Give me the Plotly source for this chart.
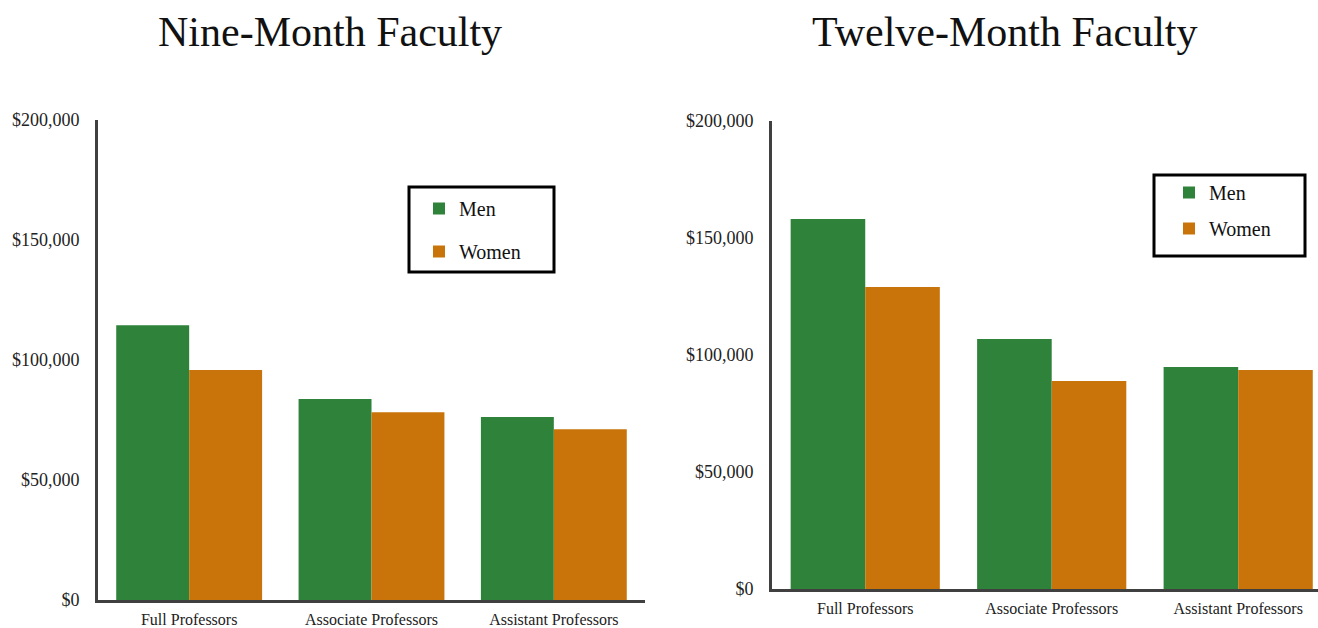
import plotly.graph_objects as go

categories = ["Full Professors", "Associate Professors", "Assistant Professors"]
nine_men = [114500, 83800, 76200]
nine_women = [95800, 78200, 71100]
twelve_men = [158100, 106800, 94900]
twelve_women = [129100, 88900, 93600]
y_ticks = [0, 50000, 100000, 150000, 200000]
y_tick_labels = ["$0", "$50,000", "$100,000", "$150,000", "$200,000"]

GREEN = "#2F823A"
ORANGE = "#C9740A"
FONT = "Liberation Serif"
AXIS = "#404040"
W, H = 1318, 628

fig = go.Figure()
fig.add_trace(go.Bar(x=categories, y=nine_men, name="Men", marker=dict(color=GREEN, line=dict(width=0)),
                     xaxis="x", yaxis="y", legend="legend", legendgroup="a"))
fig.add_trace(go.Bar(x=categories, y=nine_women, name="Women", marker=dict(color=ORANGE, line=dict(width=0)),
                     xaxis="x", yaxis="y", legend="legend", legendgroup="b"))
fig.add_trace(go.Bar(x=categories, y=twelve_men, name="Men", marker=dict(color=GREEN, line=dict(width=0)),
                     xaxis="x2", yaxis="y2", legend="legend2", legendgroup="c"))
fig.add_trace(go.Bar(x=categories, y=twelve_women, name="Women", marker=dict(color=ORANGE, line=dict(width=0)),
                     xaxis="x2", yaxis="y2", legend="legend2", legendgroup="d"))

def px_x(p):
    return p / W

def px_y(p):
    return (H - p) / H

xcommon = dict(showgrid=False, zeroline=False, showline=True, linecolor=AXIS, linewidth=3,
               ticks="", tickfont=dict(family=FONT, size=16, color="#222"), ticklabelstandoff=3,
               automargin=False)
ycommon = dict(showgrid=False, zeroline=False, showline=True, linecolor=AXIS, linewidth=3,
               ticks="", range=[0, 200000], tickvals=y_ticks, ticktext=y_tick_labels,
               tickfont=dict(family=FONT, size=18, color="#222"), ticklabelstandoff=12,
               automargin=False)

legcommon = dict(font=dict(family=FONT, size=20, color="#111"), bgcolor="rgba(0,0,0,0)",
                 borderwidth=0, xanchor="left", yanchor="top")

fig.update_layout(
    width=W, height=H,
    margin=dict(l=0, r=0, t=0, b=0, pad=0, autoexpand=False),
    paper_bgcolor="white", plot_bgcolor="white",
    barmode="group", bargap=0.2, bargroupgap=0,
    showlegend=True,
    xaxis=dict(domain=[px_x(98), px_x(645)], anchor="y", range=[-0.5, 2.5], **xcommon),
    yaxis=dict(domain=[px_y(600), px_y(120)], anchor="x", **ycommon),
    xaxis2=dict(domain=[px_x(772), 1.0], anchor="y2", range=[-0.5, 2.428], **xcommon),
    yaxis2=dict(domain=[px_y(589), px_y(121)], anchor="x2", **ycommon),
    legend=dict(x=px_x(419), y=px_y(189), tracegroupgap=14, **legcommon),
    legend2=dict(x=px_x(1169), y=px_y(173), tracegroupgap=7, **legcommon),
    annotations=[
        dict(text="Nine-Month Faculty", x=px_x(330), y=px_y(32), xref="paper", yref="paper",
             showarrow=False, xanchor="center", yanchor="middle",
             font=dict(family=FONT, size=42, color="#111")),
        dict(text="Twelve-Month Faculty", x=px_x(1005), y=px_y(32), xref="paper", yref="paper",
             showarrow=False, xanchor="center", yanchor="middle",
             font=dict(family=FONT, size=42, color="#111")),
    ],
    shapes=[
        dict(type="rect", xref="paper", yref="paper", x0=px_x(409), x1=px_x(554),
             y0=px_y(272), y1=px_y(187), line=dict(color="black", width=3)),
        dict(type="rect", xref="paper", yref="paper", x0=px_x(1154), x1=px_x(1305),
             y0=px_y(256), y1=px_y(175), line=dict(color="black", width=3)),
    ],
)

fig.write_html("out.html", config={"displayModeBar": False},
               post_script="document.body.style.margin='0';")
